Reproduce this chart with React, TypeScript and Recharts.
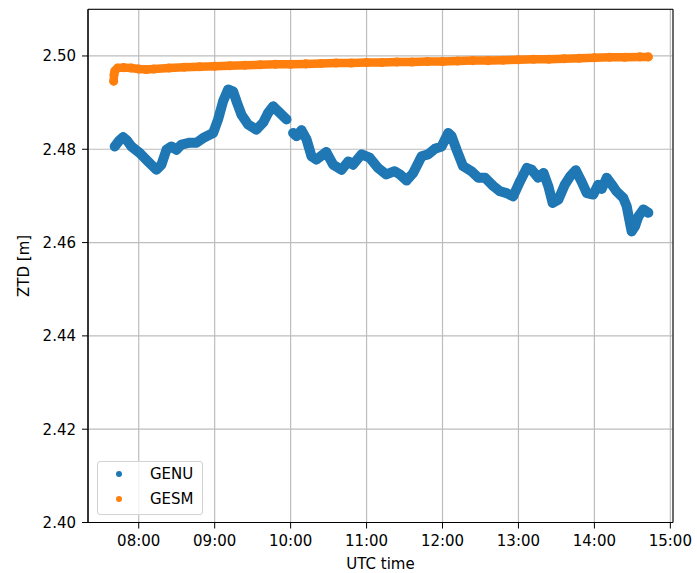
import React from 'react';
import {
  ScatterChart,
  Scatter,
  XAxis,
  YAxis,
  ZAxis,
  CartesianGrid,
  Legend,
  ReferenceArea,
} from 'recharts';

// GENU, part before the short data gap (time in decimal UTC hours, ZTD in m)
const genuTimeA = [
  7.684, 7.74, 7.793, 7.85, 7.904, 8.013, 8.122, 8.233, 8.299, 8.365, 8.43, 8.497,
  8.563, 8.672, 8.76, 8.848, 8.98, 9.045, 9.111, 9.177, 9.243, 9.287, 9.353, 9.44,
  9.55, 9.638, 9.704, 9.77, 9.858, 9.946,
];
const genuZtdA = [
  2.4806, 2.4818, 2.4826, 2.4818, 2.4806, 2.4792, 2.4774, 2.4756, 2.4767, 2.4799, 2.4806, 2.4799,
  2.481, 2.4814, 2.4814, 2.4824, 2.4835, 2.4864, 2.4903, 2.4928, 2.4924, 2.4903, 2.4874, 2.4853,
  2.4842, 2.4857, 2.4878, 2.4892, 2.4878, 2.4864,
];

// GENU, part after the gap
const genuTimeB = [
  10.033, 10.077, 10.143, 10.21, 10.275, 10.34, 10.47, 10.56, 10.67, 10.76, 10.82, 10.934,
  11.04, 11.15, 11.26, 11.37, 11.44, 11.527, 11.614, 11.725, 11.81, 11.9, 11.988, 12.075,
  12.12, 12.185, 12.27, 12.38, 12.47, 12.56, 12.67, 12.756, 12.844, 12.93, 13.02, 13.11,
  13.174, 13.26, 13.33, 13.393, 13.45, 13.525, 13.61, 13.68, 13.755, 13.83, 13.9, 13.985,
  14.05, 14.096, 14.162, 14.23, 14.29, 14.38, 14.425, 14.46, 14.49, 14.535, 14.58, 14.645,
  14.71,
];
const genuZtdB = [
  2.4835, 2.4828, 2.4841, 2.4821, 2.4785, 2.4778, 2.4794, 2.4767, 2.4756, 2.4774, 2.4767, 2.4789,
  2.4782, 2.476, 2.4746, 2.4753, 2.4746, 2.4733, 2.4749, 2.4785, 2.4789, 2.4801, 2.4806, 2.4835,
  2.4828, 2.4799, 2.4764, 2.4753, 2.4739, 2.4739, 2.4721, 2.471, 2.4706, 2.4699, 2.4731, 2.476,
  2.4756, 2.4739, 2.4749, 2.4721, 2.4685, 2.4692, 2.4724, 2.4742, 2.4755, 2.4731, 2.4706, 2.4703,
  2.4724, 2.4715, 2.4739, 2.4724, 2.471, 2.4696, 2.4678, 2.4649, 2.4624, 2.4635, 2.4656, 2.4671,
  2.4664,
];

// GESM
const gesmTime = [
  7.67, 7.675, 7.685, 7.72, 7.8, 7.9, 8.0, 8.1, 8.2, 8.4, 8.6, 8.8, 9.0, 9.2, 9.4, 9.6, 9.8,
  10.0, 10.2, 10.4, 10.6, 10.8, 11.0, 11.2, 11.4, 11.6, 11.8, 12.0, 12.2, 12.4, 12.6, 12.8,
  13.0, 13.2, 13.4, 13.6, 13.8, 14.0, 14.2, 14.4, 14.6, 14.71,
];
const gesmZtd = [
  2.4946, 2.496, 2.4968, 2.4974, 2.4975, 2.4974, 2.4972, 2.4971, 2.4972, 2.4974, 2.4976, 2.4977,
  2.4978, 2.4979, 2.498, 2.4981, 2.4982, 2.4982, 2.4983, 2.4984, 2.4985, 2.4985, 2.4986, 2.4986,
  2.4987, 2.4987, 2.4988, 2.4988, 2.4989, 2.499, 2.499, 2.4991, 2.4992, 2.4993, 2.4993, 2.4994,
  2.4995, 2.4996, 2.4997, 2.4997, 2.4998, 2.4998,
];

const xTicks = [8, 9, 10, 11, 12, 13, 14, 15];
const yTicks = [2.4, 2.42, 2.44, 2.46, 2.48, 2.5];
const seriesNames = ['GENU', 'GESM'];

const BLUE = '#1f77b4';
const ORANGE = '#ff7f0e';
const FONT = '"DejaVu Sans", sans-serif';
const X_DOMAIN: [number, number] = [7.332, 15.035];
const Y_DOMAIN: [number, number] = [2.4, 2.51];

const toPoints = (t: number[], v: number[]) => t.map((x, i) => ({ t: x, ztd: v[i] }));
const genuA = toPoints(genuTimeA, genuZtdA);
const genuB = toPoints(genuTimeB, genuZtdB);
const gesm = toPoints(gesmTime, gesmZtd);

const fmtHour = (h: number) => `${String(h).padStart(2, '0')}:00`;

const YLabel = (props: any) => {
  const vb = props.viewBox || { x: 0, y: 9.3, width: 88, height: 513 };
  const cx = 29.5;
  const cy = vb.y + vb.height / 2;
  return (
    <text
      x={cx}
      y={cy}
      transform={`rotate(-90 ${cx} ${cy})`}
      textAnchor="middle"
      fontSize={15}
      fontFamily={FONT}
      fill="#000"
    >
      ZTD [m]
    </text>
  );
};

const LegendBox = () => (
  <div
    style={{
      position: 'relative',
      width: 106,
      height: 54,
      boxSizing: 'border-box',
      border: '1px solid #d3d3d3',
      borderRadius: 3,
      background: 'rgba(255,255,255,0.8)',
      fontFamily: FONT,
      fontSize: 15,
      color: '#000',
    }}
  >
    {seriesNames.map((name, i) => (
      <React.Fragment key={name}>
        <div
          style={{
            position: 'absolute',
            left: 18,
            top: 9 + i * 25,
            width: 6,
            height: 6,
            borderRadius: '50%',
            background: i === 0 ? BLUE : ORANGE,
          }}
        />
        <div
          style={{
            position: 'absolute',
            left: 52,
            top: 4 + i * 25,
            lineHeight: '17px',
            whiteSpace: 'nowrap',
          }}
        >
          {name}
        </div>
      </React.Fragment>
    ))}
  </div>
);

export default function App() {
  return (
    <div style={{ position: 'absolute', left: 0, top: 0, width: 697, height: 573, background: '#fff' }}>
      <ScatterChart
        width={697}
        height={573}
        margin={{ top: 9.3, right: 24, bottom: 0, left: 0 }}
        style={{ fontFamily: FONT }}
      >
        <CartesianGrid stroke="#bdbdbd" strokeWidth={1.2} horizontal vertical />
        <XAxis
          type="number"
          dataKey="t"
          domain={X_DOMAIN}
          allowDataOverflow
          ticks={xTicks}
          tickFormatter={fmtHour}
          interval={0}
          height={50.5}
          tickSize={6}
          tickMargin={7}
          stroke="#000"
          tick={{ fill: '#000', fontSize: 15, fontFamily: FONT }}
          label={{ value: 'UTC time', position: 'insideBottom', offset: 4, fill: '#000', fontSize: 15, fontFamily: FONT }}
        />
        <YAxis
          type="number"
          dataKey="ztd"
          domain={Y_DOMAIN}
          allowDataOverflow
          ticks={yTicks}
          tickFormatter={(v: number) => v.toFixed(2)}
          interval={0}
          width={88}
          tickSize={6}
          tickMargin={6}
          stroke="#000"
          tick={{ fill: '#000', fontSize: 15, fontFamily: FONT }}
          label={<YLabel />}
        />
        <ZAxis range={[72, 72]} />
        <ReferenceArea
          x1={X_DOMAIN[0]}
          x2={X_DOMAIN[1]}
          y1={Y_DOMAIN[0]}
          y2={Y_DOMAIN[1]}
          fill="none"
          stroke="#000"
          strokeWidth={1}
          ifOverflow="visible"
        />
        <Scatter
          name="GENU"
          data={genuA}
          fill={BLUE}
          line={{ stroke: BLUE, strokeWidth: 10, strokeLinejoin: 'round', strokeLinecap: 'round' } as any}
          lineJointType="linear"
          isAnimationActive={false}
        />
        <Scatter
          name="GENU-b"
          data={genuB}
          fill={BLUE}
          line={{ stroke: BLUE, strokeWidth: 10, strokeLinejoin: 'round', strokeLinecap: 'round' } as any}
          lineJointType="linear"
          legendType="none"
          isAnimationActive={false}
        />
        <Scatter
          name="GESM"
          data={gesm}
          fill={ORANGE}
          line={{ stroke: ORANGE, strokeWidth: 8.5, strokeLinejoin: 'round', strokeLinecap: 'round' } as any}
          lineJointType="linear"
          isAnimationActive={false}
        />
        <Legend
          layout="horizontal"
          verticalAlign="middle"
          align="center"
          content={<LegendBox />}
          wrapperStyle={{ left: 97, top: 461, width: 106, height: 54 }}
        />
      </ScatterChart>
    </div>
  );
}
